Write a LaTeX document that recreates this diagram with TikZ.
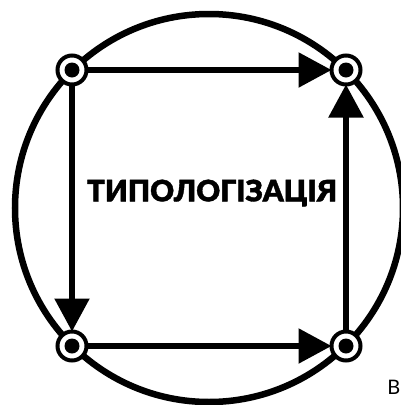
\documentclass[tikz,border=0pt]{standalone}
\usepackage{fontspec}
\setmainfont{Lato}
\newfontfamily\titlefont{Lato Black}[FakeBold=1.2]
\usetikzlibrary{arrows.meta}
\tikzset{
  ring/.style={circle, draw, line width=4pt, fill=white, minimum size=29pt, inner sep=0pt, outer sep=0pt,
    path picture={\fill[black] (path picture bounding box.center) circle (7.5pt);}},
  flow/.style={line width=5.5pt, -{Triangle[length=33pt,width=34pt]}},
}
\begin{document}
\begin{tikzpicture}[x=1pt,y=-1pt]
\useasboundingbox (0,0) rectangle (401,405);
\coordinate (c) at (209,208);
\draw[line width=6.5pt] (c) circle (194pt);
\node[ring] (tl) at (72,70) {};
\node[ring] (tr) at (346,70) {};
\node[ring] (bl) at (72,346) {};
\node[ring] (br) at (346,346) {};
\draw[flow] (tl) -- (tr);
\draw[flow] (tl) -- (bl);
\draw[flow] (bl) -- (br);
\draw[flow] (br) -- (tr);
\node (title) at (212,193) {\titlefont\fontsize{29.5}{29.5}\selectfont ТИПОЛОГІЗАЦІЯ};
\node[anchor=east, inner sep=0pt] (v) at (400.5,387) {\fontsize{20}{20}\selectfont В};
\end{tikzpicture}
\end{document}
